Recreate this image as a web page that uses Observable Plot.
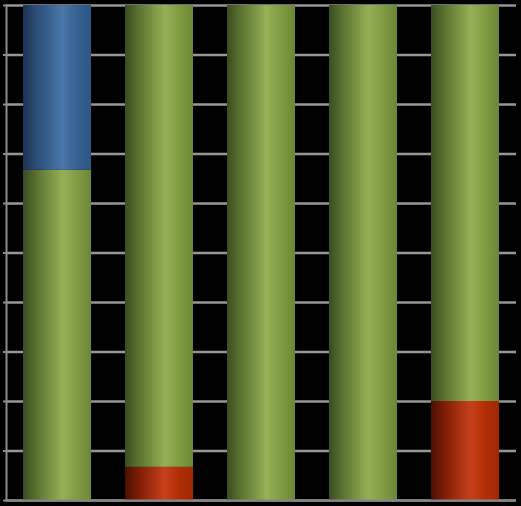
<!DOCTYPE html>
<html>
<head>
<meta charset="utf-8">
<script src="https://cdn.jsdelivr.net/npm/d3@7"></script>
<script src="https://cdn.jsdelivr.net/npm/@observablehq/plot@0.6"></script>
<style>
  html, body { margin: 0; padding: 0; background: #000; }
  #chart svg { display: block; }
</style>
</head>
<body>
<div id="chart"></div>
<script>
const categories = ["1", "2", "3", "4", "5"];
const seriesNames = ["s-red", "s-green", "s-blue"];
const redValues = [0, 6.7, 0, 0, 20];
const greenValues = [66.7, 93.3, 100, 100, 80];
const blueValues = [33.3, 0, 0, 0, 0];
const yTicks = [0, 10, 20, 30, 40, 50, 60, 70, 80, 90, 100];

const gradients = {
  "s-red": [["0%", "#4a1004"], ["20%", "#7e1d06"], ["58%", "#c8401a"], ["80%", "#b02e06"], ["100%", "#a02804"]],
  "s-green": [["0%", "#3a4c22"], ["20%", "#5a7330"], ["58%", "#95b055"], ["80%", "#7f9b42"], ["100%", "#6b8736"]],
  "s-blue": [["0%", "#1c3352"], ["20%", "#2c4c78"], ["58%", "#4a78a9"], ["80%", "#35608f"], ["100%", "#2d5684"]]
};

const data = [];
categories.forEach((c, i) => {
  data.push({cat: c, series: "s-red", value: redValues[i]});
  data.push({cat: c, series: "s-green", value: greenValues[i]});
  data.push({cat: c, series: "s-blue", value: blueValues[i]});
});

const chart = Plot.plot({
  width: 521,
  height: 506,
  marginLeft: 6,
  marginRight: 5,
  marginTop: 5,
  marginBottom: 6,
  style: {background: "#000", color: "#8c8c8c"},
  x: {domain: categories, axis: null, paddingInner: 0.333, paddingOuter: 0.167, round: false},
  y: {domain: [0, 100], axis: null},
  color: {type: "ordinal", domain: seriesNames, range: seriesNames.map(s => `url(#grad-${s})`)},
  marks: [
    Plot.ruleY(yTicks, {stroke: "#969696", strokeWidth: 2.6}),
    Plot.barY(data, Plot.stackY({x: "cat", y: "value", fill: "series", order: seriesNames})),
    Plot.ruleY([0], {stroke: "#858585", strokeWidth: 2.2}),
    Plot.frame({anchor: "left", stroke: "#8c8c8c", strokeWidth: 2}),
    Plot.axisY(yTicks, {tickSize: 3, tickFormat: () => "", label: null, strokeWidth: 2})
  ]
});

const defs = d3.select(chart).insert("defs", ":first-child");
for (const [name, stops] of Object.entries(gradients)) {
  const g = defs.append("linearGradient").attr("id", `grad-${name}`)
    .attr("x1", "0").attr("x2", "1").attr("y1", "0").attr("y2", "0");
  for (const [o, c] of stops) g.append("stop").attr("offset", o).attr("stop-color", c);
}

document.getElementById("chart").appendChild(chart);
</script>
</body>
</html>
